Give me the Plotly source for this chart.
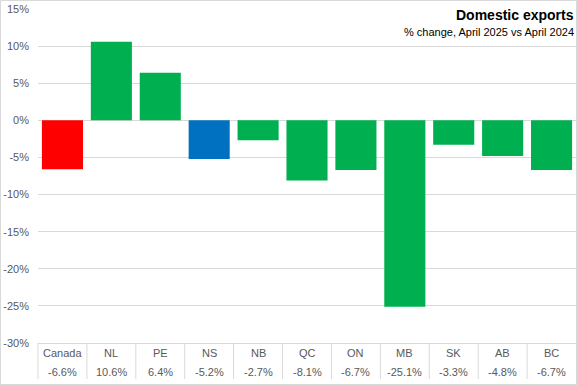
import plotly.graph_objects as go

regions = ["Canada", "NL", "PE", "NS", "NB", "QC", "ON", "MB", "SK", "AB", "BC"]
changes = [-6.6, 10.6, 6.4, -5.2, -2.7, -8.1, -6.7, -25.1, -3.3, -4.8, -6.7]
value_labels = ["-6.6%", "10.6%", "6.4%", "-5.2%", "-2.7%", "-8.1%", "-6.7%", "-25.1%", "-3.3%", "-4.8%", "-6.7%"]
y_ticks = [15, 10, 5, 0, -5, -10, -15, -20, -25, -30]
y_tick_labels = ["15%", "10%", "5%", "0%", "-5%", "-10%", "-15%", "-20%", "-25%", "-30%"]

colors = []
for r in regions:
    if r == "Canada":
        colors.append("#FF0000")
    elif r == "NS":
        colors.append("#0070C0")
    else:
        colors.append("#00B050")

W, H = 577, 385
ML, MR, MT, MB = 38, 1, 9, 42
PW, PH = W - ML - MR, H - MT - MB
FONT = "Liberation Sans"
GREY = "#595959"

fig = go.Figure(go.Bar(x=list(range(len(regions))), y=changes, marker_color=colors,
                       marker_line_width=0, width=0.84, hoverinfo="skip"))

annotations = []
shapes = []
n = len(regions)
for i, (r, v) in enumerate(zip(regions, value_labels)):
    annotations.append(dict(x=i, y=0, xref="x", yref="paper", text=r, showarrow=False,
                            yanchor="middle", yshift=-10, font=dict(size=11, color=GREY, family=FONT)))
    annotations.append(dict(x=i, y=0, xref="x", yref="paper", text=v, showarrow=False,
                            yanchor="middle", yshift=-29, font=dict(size=11, color=GREY, family=FONT)))
    if i < n - 1:
        xp = (i + 1) / n
        shapes.append(dict(type="line", xref="paper", yref="paper", x0=xp, x1=xp,
                           y0=0, y1=-36 / PH, line=dict(color="#D9D9D9", width=1)))

# left edge separator and outer frame
shapes.append(dict(type="line", xref="paper", yref="paper", x0=0, x1=0, y0=0, y1=-36 / PH,
                   line=dict(color="#D9D9D9", width=1)))
shapes.append(dict(type="rect", xref="paper", yref="paper",
                   x0=(-ML + 0.5) / PW, x1=(PW + MR - 0.5) / PW,
                   y0=(-MB + 0.5) / PH, y1=(PH + MT - 0.5) / PH,
                   line=dict(color="#D9D9D9", width=1)))

annotations.append(dict(x=1, y=(PH + MT - 15) / PH, xref="paper", yref="paper", xanchor="right",
                        yanchor="middle", text="<b>Domestic exports</b>", showarrow=False,
                        font=dict(size=14, color="#000000", family=FONT)))
annotations.append(dict(x=1, y=(PH + MT - 32) / PH, xref="paper", yref="paper", xanchor="right",
                        yanchor="middle", text="% change, April 2025 vs April 2024", showarrow=False,
                        font=dict(size=11, color="#000000", family=FONT)))

fig.update_layout(
    width=W, height=H,
    margin=dict(l=ML, r=MR, t=MT, b=MB),
    plot_bgcolor="white", paper_bgcolor="white",
    showlegend=False,
    annotations=annotations,
    shapes=shapes,
    font=dict(family=FONT, size=11, color=GREY),
    hovermode=False,
)
fig.update_xaxes(range=[-0.5, n - 0.5], showticklabels=False, showgrid=False, zeroline=False,
                 showline=True, linecolor="#D9D9D9", linewidth=1, ticks="")
fig.update_yaxes(range=[-30, 15], tickvals=y_ticks, ticktext=y_tick_labels, showgrid=True,
                 gridcolor="#D9D9D9", gridwidth=1, zeroline=True, zerolinecolor="#D9D9D9",
                 zerolinewidth=1, ticks="", tickfont=dict(size=11, color=GREY, family=FONT),
                 ticklabelstandoff=8)

fig.write_html("out.html", config={"displayModeBar": False, "staticPlot": True},
               post_script="document.body.style.margin='0';document.body.style.padding='0';"
                           "document.body.style.overflow='hidden';")
